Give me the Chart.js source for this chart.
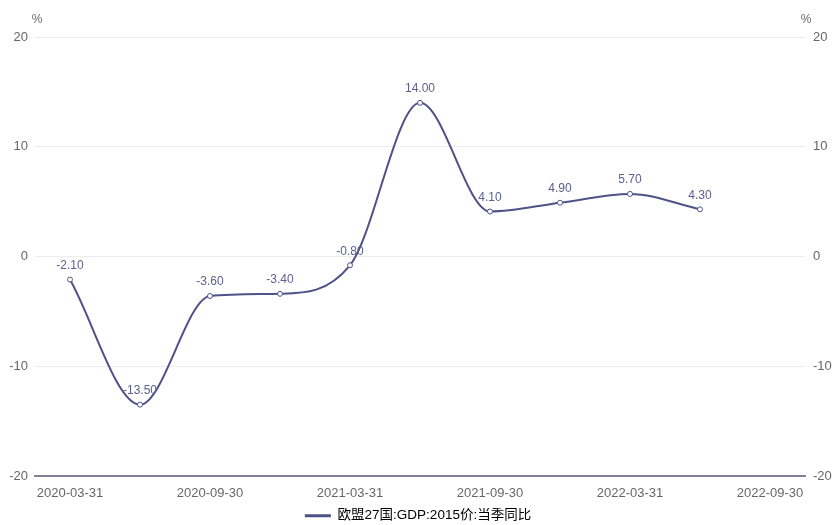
<!DOCTYPE html>
<html>
<head>
<meta charset="utf-8">
<script src="https://cdn.jsdelivr.net/npm/chart.js@4.4.0/dist/chart.umd.min.js"></script>
<style>
  html, body { margin: 0; padding: 0; background: #fff; }
  #wrap { width: 836px; height: 525px; }
</style>
</head>
<body>
<div id="wrap"><canvas id="gdpChart" width="836" height="525"></canvas></div>
<script>
// dados do gráfico
const categorias = ['2020-03-31', '2020-06-30', '2020-09-30', '2020-12-31', '2021-03-31', '2021-06-30',
                    '2021-09-30', '2021-12-31', '2022-03-31', '2022-06-30', '2022-09-30'];
const valores = [-2.10, -13.50, -3.60, -3.40, -0.80, 14.00, 4.10, 4.90, 5.70, 4.30, null];
const ticksY = [-20, -10, 0, 10, 20];
const nomeSerie = '欧盟27国:GDP:2015价:当季同比';

const corLinha = '#4e5286';
const fonte = "'Liberation Sans', 'Noto Sans CJK SC', sans-serif";

// rótulos de valor acima dos pontos + unidade "%"
const rotulosPlugin = {
    id: 'rotulos',
    afterDatasetsDraw(chart) {
        const ctx = chart.ctx;
        const meta = chart.getDatasetMeta(0);
        ctx.save();
        ctx.font = '12px ' + fonte;
        ctx.fillStyle = '#5c6090';
        ctx.textAlign = 'center';
        ctx.textBaseline = 'bottom';
        meta.data.forEach(function(pt, i) {
            const v = valores[i];
            if (v === null) return;
            ctx.fillText(v.toFixed(2), pt.x, pt.y - 8);
        });
        ctx.font = '12px ' + fonte;
        ctx.fillStyle = '#666';
        ctx.textBaseline = 'middle';
        ctx.fillText('%', chart.chartArea.left + 2, 20);
        ctx.fillText('%', chart.chartArea.right + 1, 20);
        ctx.restore();
    }
};

const ctx = document.getElementById('gdpChart').getContext('2d');
const gdpChart = new Chart(ctx, {
    type: 'line',
    data: {
        labels: categorias,
        datasets: [{
            label: nomeSerie,
            data: valores,
            borderColor: corLinha,
            backgroundColor: corLinha,
            borderWidth: 2,
            cubicInterpolationMode: 'monotone',
            pointRadius: 2.5,
            pointBackgroundColor: '#fff',
            pointBorderColor: corLinha,
            pointBorderWidth: 1,
            yAxisID: 'y'
        }]
    },
    options: {
        responsive: false,
        animation: false,
        layout: { padding: { top: 37, bottom: 0, left: 0, right: 0 } },
        scales: {
            x: {
                offset: true,
                grid: { display: false },
                border: { display: true, color: '#7e8098', width: 2 },
                ticks: {
                    autoSkip: false,
                    maxRotation: 0,
                    padding: 2,
                    color: '#666',
                    font: { size: 13, family: fonte },
                    callback: function(val, idx) {
                        return idx % 2 === 0 ? categorias[idx] : '';
                    }
                },
                afterFit: function(scale) { scale.height = 32; }
            },
            y: {
                position: 'left',
                min: -20, max: 20,
                afterBuildTicks: function(scale) { scale.ticks = ticksY.map(v => ({ value: v })); },
                grid: { color: '#ececec', drawTicks: false },
                border: { display: false },
                ticks: { padding: 7, color: '#666', font: { size: 13, family: fonte } },
                afterFit: function(scale) { scale.width = 35; }
            },
            y2: {
                position: 'right',
                min: -20, max: 20,
                afterBuildTicks: function(scale) { scale.ticks = ticksY.map(v => ({ value: v })); },
                grid: { display: false, drawTicks: false },
                border: { display: false },
                ticks: { padding: 8, color: '#666', font: { size: 13, family: fonte } },
                afterFit: function(scale) { scale.width = 31; }
            }
        },
        plugins: {
            legend: {
                display: true,
                position: 'bottom',
                maxHeight: 17,
                labels: {
                    color: '#555',
                    font: { size: 13.5, family: fonte },
                    boxWidth: 26,
                    boxHeight: 3,
                    padding: 1,
                    generateLabels: function(chart) {
                        return [{
                            text: nomeSerie,
                            fillStyle: corLinha,
                            strokeStyle: corLinha,
                            lineWidth: 0,
                            datasetIndex: 0
                        }];
                    }
                }
            },
            tooltip: { enabled: false }
        }
    },
    plugins: [rotulosPlugin]
});
</script>
</body>
</html>
